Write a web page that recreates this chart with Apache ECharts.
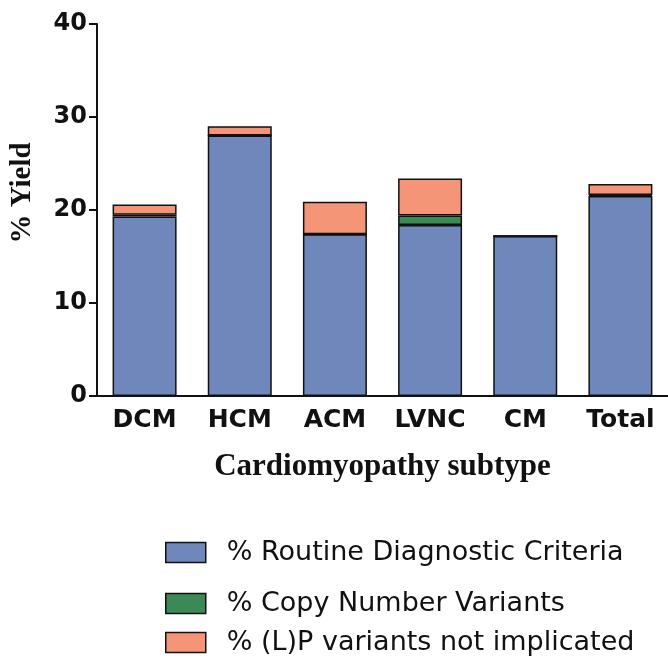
<!DOCTYPE html>
<html>
<head>
<meta charset="utf-8">
<script src="https://cdn.jsdelivr.net/npm/echarts@6/dist/echarts.min.js"></script>
<style>html,body{margin:0;padding:0;background:#fff;}#c{width:668px;height:662px;}</style>
</head>
<body>
<div id="c"></div>
<script>
var categories = ['DCM', 'HCM', 'ACM', 'LVNC', 'CM', 'Total'];
var routine = [19.3, 28.0, 17.4, 18.4, 17.2, 21.5];
var cnv = [0.2, 0.0, 0.0, 1.0, 0.0, 0.1];
var notImplicated = [1.1, 1.0, 3.5, 4.0, 0.0, 1.2];
var yTicks = [0, 10, 20, 30, 40];
var seriesNames = ['% Routine Diagnostic Criteria', '% Copy Number Variants', '% (L)P variants not implicated'];
var colors = ['#6f87ba', '#3b8a55', '#f59578'];

var chart = echarts.init(document.getElementById('c'), null, {renderer: 'canvas'});
function mk(name, data, color) {
  return {
    name: name, type: 'bar', stack: 'a', data: data, barWidth: 64,
    itemStyle: {color: color, borderColor: '#111', borderWidth: 1.5},
    emphasis: {disabled: true}
  };
}
function leg(name, top) {
  return {
    data: [{name: name, icon: 'rect'}], left: 160, top: top, orient: 'vertical',
    itemWidth: 40, itemHeight: 20, selectedMode: false,
    itemStyle: {borderColor: '#111', borderWidth: 1.5},
    textStyle: {fontFamily: 'DejaVu Sans', fontSize: 27, color: '#111', padding: [0, 0, 0, 16]}
  };
}
chart.setOption({
  animation: false,
  backgroundColor: '#fff',
  grid: {left: 97, right: 0, top: 24, bottom: 266},
  legend: [leg(seriesNames[0], 534), leg(seriesNames[1], 585), leg(seriesNames[2], 624)],
  xAxis: {
    type: 'category', data: categories,
    axisLine: {lineStyle: {color: '#111', width: 2}},
    axisTick: {alignWithLabel: true, length: 8, lineStyle: {color: '#111', width: 2}},
    axisLabel: {fontFamily: 'DejaVu Sans', fontWeight: 'bold', fontSize: 25, color: '#111', margin: 12},
    name: 'Cardiomyopathy subtype', nameLocation: 'middle', nameGap: 55,
    nameTextStyle: {fontFamily: 'Liberation Serif', fontWeight: 'bold', fontSize: 31, color: '#111'}
  },
  yAxis: {
    type: 'value', min: yTicks[0], max: yTicks[yTicks.length - 1], interval: 10,
    axisLine: {show: true, lineStyle: {color: '#111', width: 2}},
    axisTick: {show: true, length: 8, lineStyle: {color: '#111', width: 2}},
    splitLine: {show: false},
    axisLabel: {fontFamily: 'DejaVu Sans', fontWeight: 'bold', fontSize: 24, color: '#111', margin: 10},
    name: '% Yield', nameLocation: 'middle', nameGap: 60,
    nameTextStyle: {fontFamily: 'Liberation Serif', fontWeight: 'bold', fontSize: 29, color: '#111', padding: [0, 0, 0, 34]}
  },
  series: [
    mk(seriesNames[0], routine, colors[0]),
    mk(seriesNames[1], cnv, colors[1]),
    mk(seriesNames[2], notImplicated, colors[2])
  ]
});
</script>
</body>
</html>
